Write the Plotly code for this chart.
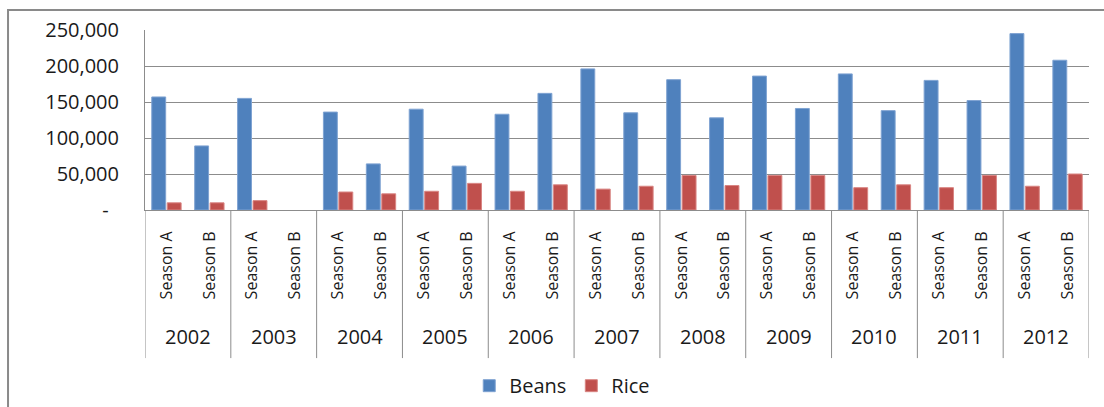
import plotly.graph_objects as go

years = ["2002", "2003", "2004", "2005", "2006", "2007", "2008", "2009", "2010", "2011", "2012"]
seasons = ["Season A", "Season B"]
beans = [157000, 89000, 155000, None, 136000, 64000, 140000, 61000, 133000, 162000,
         196000, 135000, 181000, 128000, 186000, 141000, 189000, 138000, 180000, 152000,
         245000, 208000]
rice = [10000, 10000, 13000, None, 25000, 22500, 26000, 37000, 26000, 35000,
        29000, 33000, 48000, 34000, 48000, 48000, 31000, 35000, 31000, 48000,
        33000, 50000]
ytick_vals = [0, 50000, 100000, 150000, 200000, 250000]
ytick_text = ["-\u00a0\u00a0", "50,000", "100,000", "150,000", "200,000", "250,000"]

categories = [f"{y} {s}" for y in years for s in seasons]
cat_labels = [s for _ in years for s in seasons]

FONT = "Open Sans"
GRID = "#8c8c8c"
TXT = "#1a1a1a"

fig = go.Figure()
fig.add_trace(go.Bar(name="Beans", x=categories, y=beans,
                     marker=dict(color="#4F81BD", line=dict(color="#7fa3d2", width=1))))
fig.add_trace(go.Bar(name="Rice", x=categories, y=rice,
                     marker=dict(color="#C0504D", line=dict(color="#d98583", width=1))))

n_s = len(seasons)
annotations = []
shapes = []
for i, yr in enumerate(years):
    annotations.append(dict(x=i * n_s + (n_s - 1) / 2, xref="x", y=-0.7047, yref="paper",
                            text=yr, showarrow=False, xanchor="center", yanchor="middle",
                            font=dict(family=FONT, size=20, color=TXT)))
for i in range(len(years) + 1):
    shapes.append(dict(type="line", xref="x", yref="paper", x0=i * n_s - 0.5, x1=i * n_s - 0.5,
                       y0=0, y1=-0.8227, line=dict(color=GRID, width=1)))
shapes.append(dict(type="path", xref="paper", yref="paper",
                   path="M -0.1451,-1.3 L -0.1451,1.1108 L 1.1,1.1108",
                   line=dict(color="#8a8a8a", width=2)))

fig.update_layout(
    width=1104, height=407,
    margin=dict(l=145, r=15, t=30, b=196.5, autoexpand=False),
    paper_bgcolor="white", plot_bgcolor="white",
    barmode="group", bargap=0.28, bargroupgap=0.1,
    font=dict(family=FONT, size=20, color=TXT),
    showlegend=True,
    legend=dict(orientation="h", x=0.442, xanchor="center", y=-0.976, yanchor="middle",
                font=dict(family=FONT, size=20, color=TXT), traceorder="normal"),
    xaxis=dict(type="category", tickvals=categories, ticktext=cat_labels, tickangle=-90,
               showline=True, linecolor=GRID, linewidth=1, ticks="outside", ticklen=14,
               tickcolor="rgba(0,0,0,0)", range=[-0.5, len(categories) - 0.5],
               tickfont=dict(family=FONT, size=16, color=TXT), showgrid=False, automargin=False),
    yaxis=dict(range=[0, 250000], tickvals=ytick_vals, ticktext=ytick_text,
               showgrid=True, gridcolor=GRID, gridwidth=1, showline=True, linecolor=GRID,
               linewidth=1, ticks="outside", ticklen=21, tickcolor="rgba(0,0,0,0)",
               zeroline=False, automargin=False,
               tickfont=dict(family=FONT, size=20, color=TXT)),
    annotations=annotations,
    shapes=shapes,
)

fig.write_html("out.html")
